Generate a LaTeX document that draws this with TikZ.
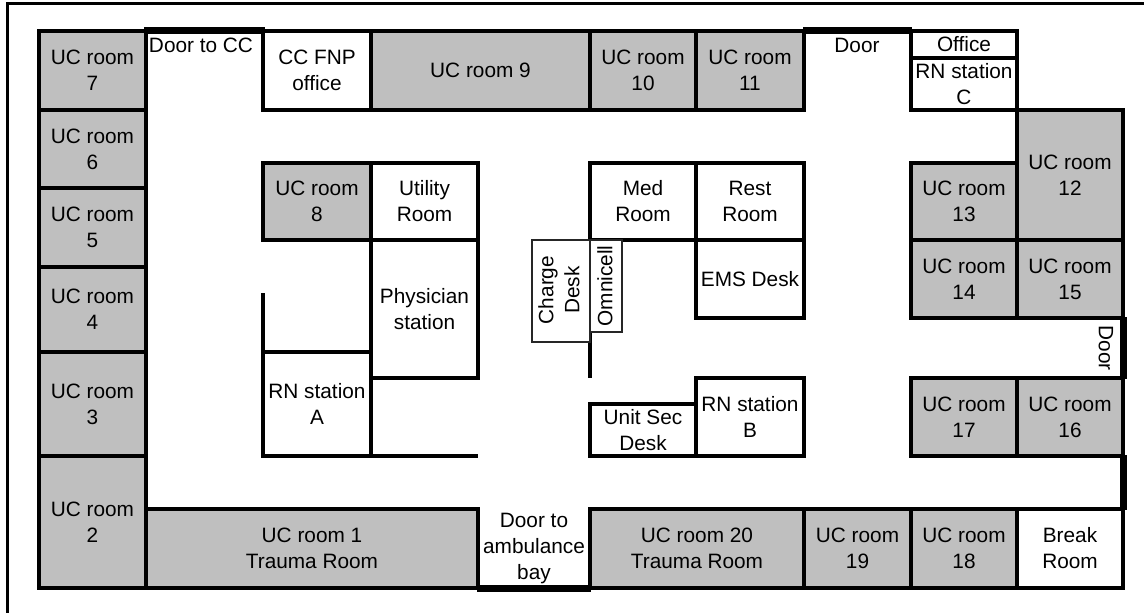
\documentclass[tikz,border=0pt]{standalone}
\usepackage{fontspec}
\setmainfont{Liberation Sans}
\tikzset{
    wall/.style={line width=3.1pt},
    ucroom/.style={wall, fill=black!25},
    plainroom/.style={wall, fill=white},
    door/.style={fill=black},
    thinbox/.style={draw=black!85, line width=1.1pt, fill=white},
    lbl/.style={align=center, inner sep=0pt, font=\fontsize{20.8}{26}\selectfont}
}

\begin{document}
\begin{tikzpicture}[x=1pt, y=-1pt]
    \useasboundingbox (0,0) rectangle (1144,613);

    % outer frame
    \coordinate (ftop) at (1144,3);
    \coordinate (fcorner) at (7.5,3);
    \coordinate (fbottom) at (7.5,613);
    \draw[line width=3pt] (ftop) -- (fcorner) -- (fbottom);

    % grey rooms
    \foreach \name/\xa/\ya/\xb/\yb/\txt in {
        uc1/146/509/478/588/{UC room 1\\Trauma Room},
        uc2/39/456/146/588/{UC room\\2},
        uc3/39/352/146/456/{UC room\\3},
        uc4/39/267/146/352/{UC room\\4},
        uc5/39/188/146/267/{UC room\\5},
        uc6/39/110/146/188/{UC room\\6},
        uc7/39/31/146/110/{UC room\\7},
        uc8/263/163/371/240/{UC room\\8},
        uc9/371/31/590/110/{UC room 9},
        uc10/590/31/696/110/{UC room\\10},
        uc11/696/31/804/110/{UC room\\11},
        uc12/1017/110/1123/240/{UC room\\12},
        uc13/911/163/1017/240/{UC room\\13},
        uc14/911/240/1017/318/{UC room\\14},
        uc15/1017/240/1123/318/{UC room\\15},
        uc16/1017/378/1123/456/{UC room\\16},
        uc17/911/378/1017/456/{UC room\\17},
        uc18/911/509/1017/588/{UC room\\18},
        uc19/804/509/911/588/{UC room\\19},
        uc20/590/509/804/588/{UC room 20\\Trauma Room}} {
        \draw[ucroom] (\xa,\ya) rectangle (\xb,\yb);
        \node[lbl] (\name) at ({(\xa+\xb)/2},{(\ya+\yb)/2}) {\txt};
    }

    % white rooms
    \foreach \name/\xa/\ya/\xb/\yb/\txt in {
        fnp/263/31/371/110/{CC FNP\\office},
        utility/371/163/478/240/{Utility\\Room},
        physician/371/240/478/378/{Physician\\station},
        rna/263/352/371/456/{RN station\\A},
        med/590/163/696/240/{Med\\Room},
        rest/696/163/804/240/{Rest\\Room},
        ems/696/240/804/318/{EMS Desk},
        rnb/696/378/804/456/{RN station\\B},
        unit/590/404/696/456/{Unit Sec\\Desk},
        office/911/31/1017/58/{Office},
        rnc/911/58/1017/110/{RN station\\C},
        breakroom/1017/509/1123/588/{Break\\Room}} {
        \draw[plainroom] (\xa,\ya) rectangle (\xb,\yb);
        \node[lbl] (\name) at ({(\xa+\xb)/2},{(\ya+\yb)/2}) {\txt};
    }

    % loose walls
    \draw[wall] (263,293) -- (263,352);
    \draw[wall] (371,456) -- (478,456);
    \draw[wall] (590,240) -- (590,378);

    % desks in the middle
    \draw[thinbox] (532,240) rectangle (590,342);
    \draw[thinbox] (590,240) rectangle (622,332);
    \node[lbl, rotate=90] (charge) at (559,290) {Charge\\Desk};
    \node[lbl, rotate=90] (omnicell) at (605,286) {Omnicell};

    % doors
    \fill[door] (144,27) rectangle (265,34);
    \fill[door] (803,27) rectangle (912,34);
    \fill[door] (477,585) rectangle (591,592);
    \fill[door] (1120,317) rectangle (1127,379);
    \fill[door] (1120,455) rectangle (1127,510);
    \node[lbl] (doorcc) at (201,45) {Door to CC};
    \node[lbl] (doortop) at (857,45) {Door};
    \node[lbl] (doorbay) at (534,548) {Door to\\ambulance\\bay};
    \node[lbl, rotate=-90] (doorright) at (1106,348) {Door};
\end{tikzpicture}
\end{document}
